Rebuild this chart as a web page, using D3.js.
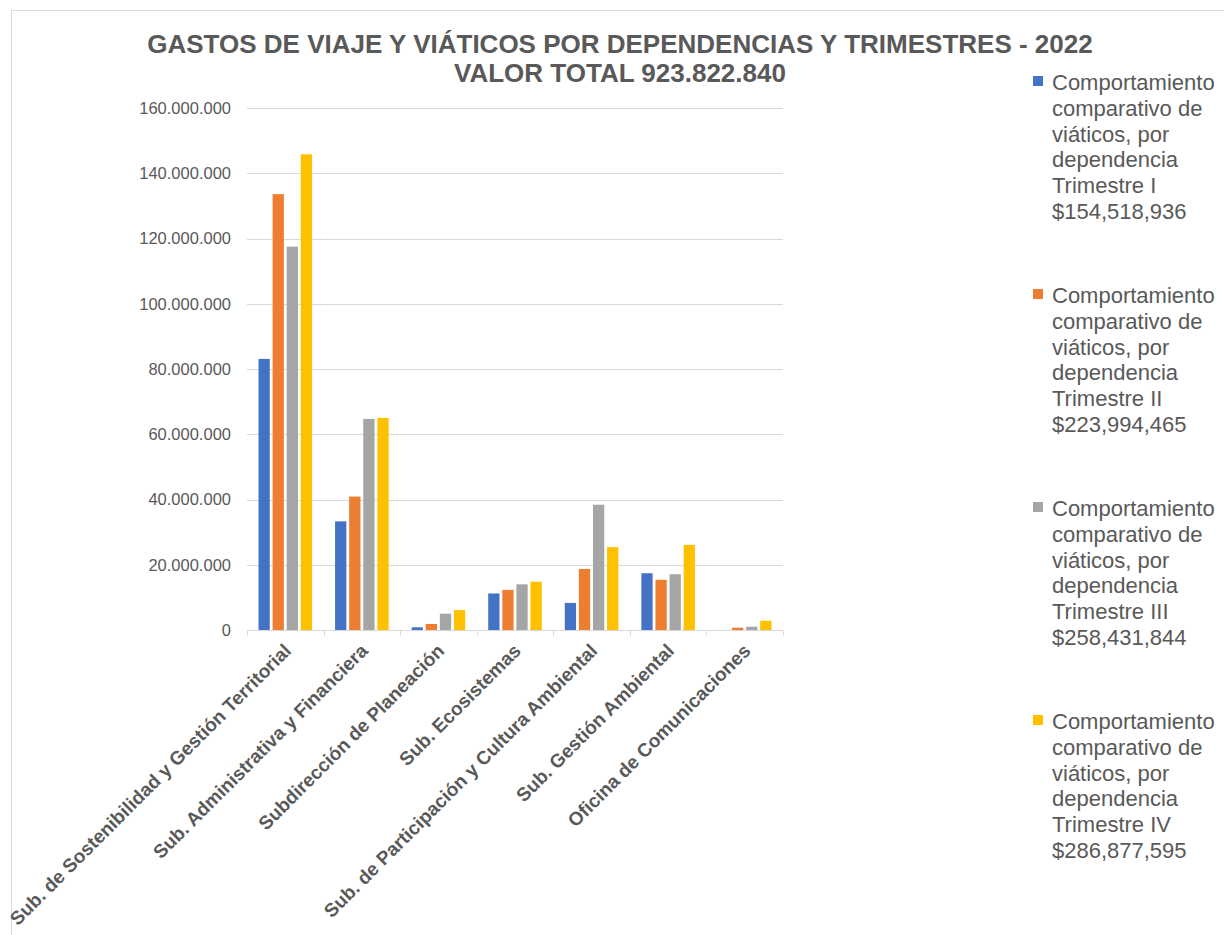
<!DOCTYPE html>
<html>
<head>
<meta charset="utf-8">
<script src="https://cdn.jsdelivr.net/npm/d3@7"></script>
<style>
  html, body { margin: 0; padding: 0; background: #fff; }
  svg { display: block; font-family: "Liberation Sans", Arial, sans-serif; }
</style>
</head>
<body>
<svg id="chart" width="1224" height="935"></svg>
<script>
const categories = [
  "Sub. de Sostenibilidad y Gestión Territorial",
  "Sub. Administrativa y Financiera",
  "Subdirección de Planeación",
  "Sub. Ecosistemas",
  "Sub. de Participación y Cultura Ambiental",
  "Sub. Gestión Ambiental",
  "Oficina de Comunicaciones"
];
const seriesNames = ["Trimestre I", "Trimestre II", "Trimestre III", "Trimestre IV"];
const seriesTotals = ["$154,518,936", "$223,994,465", "$258,431,844", "$286,877,595"];
const trimestreI   = [83100000, 33300000, 830000, 11200000, 8300000, 17400000, 0];
const trimestreII  = [133600000, 40900000, 1840000, 12300000, 18700000, 15400000, 700000];
const trimestreIII = [117500000, 64700000, 5000000, 14000000, 38400000, 17100000, 1000000];
const trimestreIV  = [145800000, 65000000, 6100000, 14800000, 25400000, 26100000, 2850000];
const yTicks = [0, 20000000, 40000000, 60000000, 80000000, 100000000, 120000000, 140000000, 160000000];
const titleLines = ["GASTOS DE VIAJE Y VIÁTICOS POR DEPENDENCIAS Y TRIMESTRES - 2022", "VALOR TOTAL 923.822.840"];
const legendPrefix = ["Comportamiento", "comparativo de", "viáticos, por", "dependencia"];

const colors = ["#4472C4", "#ED7D31", "#A5A5A5", "#FFC000"];
const seriesValues = [trimestreI, trimestreII, trimestreIII, trimestreIV];
const textColor = "#595959";
const gridColor = "#d9d9d9";

const svg = d3.select("#chart");

// chart border
svg.append("rect").attr("x", 11.5).attr("y", 10.5).attr("width", 1400).attr("height", 1000)
  .attr("fill", "none").attr("stroke", gridColor).attr("stroke-width", 1);

const plot = { left: 247, right: 783, top: 108, bottom: 630 };

const x0 = d3.scaleBand().domain(categories).range([plot.left, plot.right]).padding(0);
const x1 = d3.scaleBand().domain(seriesNames)
  .range([11.5, x0.bandwidth() - 11.5]).paddingInner(0.2).paddingOuter(0);
const y = d3.scaleLinear().domain([0, 160000000]).range([plot.bottom, plot.top]);

const fmt = v => v === 0 ? "0" : d3.format(",")(v).replace(/,/g, ".");

// gridlines
svg.append("g").selectAll("line").data(yTicks.filter(t => t > 0)).join("line")
  .attr("x1", plot.left).attr("x2", plot.right)
  .attr("y1", d => Math.round(y(d)) + 0.5).attr("y2", d => Math.round(y(d)) + 0.5)
  .attr("stroke", gridColor).attr("stroke-width", 1);

// y axis labels
const yAxis = d3.axisLeft(y).tickValues(yTicks).tickFormat(fmt).tickSize(0).tickPadding(16);
const gy = svg.append("g").attr("transform", `translate(${plot.left},0)`).call(yAxis);
gy.select(".domain").remove();
gy.selectAll("text").attr("fill", textColor).style("font-size", "16.5px")
  .style("font-family", "'Liberation Sans', Arial, sans-serif");

// bars
const groups = svg.append("g").selectAll("g").data(categories).join("g")
  .attr("transform", d => `translate(${x0(d)},0)`);
groups.selectAll("rect").data((d, i) => seriesNames.map((s, j) => ({ s, v: seriesValues[j][i], j })))
  .join("rect")
  .attr("x", d => x1(d.s))
  .attr("width", x1.bandwidth())
  .attr("y", d => y(d.v))
  .attr("height", d => y(0) - y(d.v))
  .attr("fill", d => colors[d.j]);

// x axis
const xAxisLine = svg.append("g").attr("transform", `translate(0,${plot.bottom + 0.5})`);
xAxisLine.append("line").attr("x1", plot.left).attr("x2", plot.right)
  .attr("stroke", gridColor).attr("stroke-width", 1);
const boundaries = categories.map(c => x0(c)).concat([plot.right]);
xAxisLine.selectAll("line.tick").data(boundaries).join("line").attr("class", "tick")
  .attr("x1", d => Math.round(d) + 0.5).attr("x2", d => Math.round(d) + 0.5)
  .attr("y1", 0).attr("y2", 5).attr("stroke", gridColor);

// x labels
svg.append("g").selectAll("text").data(categories).join("text")
  .attr("transform", d => `translate(${x0(d) + x0.bandwidth() / 2 + 7},${plot.bottom + 22}) rotate(-45)`)
  .attr("text-anchor", "end")
  .attr("fill", textColor)
  .style("font-size", "19px").style("font-weight", "bold")
  .text(d => d);

// title
svg.append("g").selectAll("text").data(titleLines).join("text")
  .attr("x", 620).attr("y", (d, i) => 53 + i * 29)
  .attr("text-anchor", "middle").attr("fill", textColor)
  .style("font-size", "26px").style("font-weight", "bold")
  .text(d => d);

// legend
const legend = svg.append("g").selectAll("g").data(seriesNames).join("g")
  .attr("transform", (d, i) => `translate(1033,${90 + i * 213})`);
legend.append("rect").attr("x", 0).attr("y", -14).attr("width", 10).attr("height", 10)
  .attr("fill", (d, i) => colors[i]);
legend.append("text").attr("fill", textColor).style("font-size", "22px")
  .selectAll("tspan").data((d, i) => legendPrefix.concat([d, seriesTotals[i]])).join("tspan")
  .attr("x", 19).attr("y", (d, k) => k * 25.8)
  .text(d => d);
</script>
</body>
</html>
